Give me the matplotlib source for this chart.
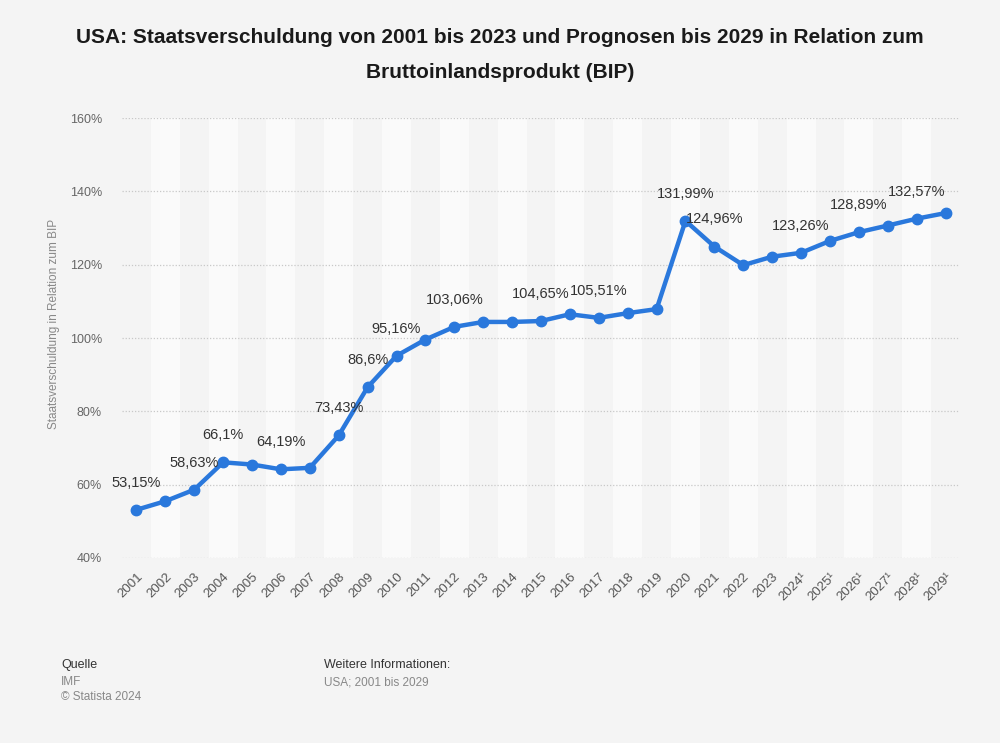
import matplotlib.pyplot as plt

# Daten (IMF, Staatsverschuldung in % des BIP)
jahre = ['2001', '2002', '2003', '2004', '2005', '2006', '2007', '2008', '2009', '2010',
         '2011', '2012', '2013', '2014', '2015', '2016', '2017', '2018', '2019', '2020',
         '2021', '2022', '2023', '2024¹', '2025¹', '2026¹', '2027¹', '2028¹', '2029¹']
werte = [53.15, 55.5, 58.63, 66.1, 65.5, 64.19, 64.6, 73.43, 86.6, 95.16,
         99.6, 103.06, 104.4, 104.4, 104.65, 106.5, 105.51, 106.8, 107.9, 131.99,
         124.96, 119.9, 122.2, 123.26, 126.5, 128.89, 130.7, 132.57, 134.1]
# nur diese Punkte bekommen eine Beschriftung
beschriftet = [0, 2, 3, 5, 7, 8, 9, 11, 14, 16, 19, 20, 23, 25, 27]
y_ticks = [40, 60, 80, 100, 120, 140, 160]

plt.rcParams['font.family'] = ['Liberation Sans', 'DejaVu Sans']

bg = '#f4f4f4'
fig = plt.figure(figsize=(10, 7.43), dpi=100, facecolor=bg)
ax = fig.add_axes([0.122, 0.249, 0.838, 0.592], facecolor=bg)

x = list(range(len(jahre)))

# helle Streifen für jede zweite Spalte
for i in x:
    if i % 2 == 1:
        ax.axvspan(i - 0.5, i + 0.5, color='#fafafa', zorder=0, lw=0)

for t in y_ticks:
    ax.axhline(t, color='#c8c8c8', lw=0.9, ls=(0, (1, 1.5)), zorder=1)

ax.plot(x, werte, color='#2a78dc', lw=3.2, marker='o', markersize=7.5,
        solid_capstyle='round', solid_joinstyle='round', zorder=3)

for i in beschriftet:
    txt = f'{werte[i]:g}'.replace('.', ',') + '%'
    ax.annotate(txt, (x[i], werte[i]), xytext=(0, 19.5), textcoords='offset points',
                ha='center', va='center', fontsize=10.5, color='#333333', zorder=4)

ax.set_xlim(-0.5, len(jahre) - 0.5)
ax.set_ylim(40, 160)
ax.set_yticks(y_ticks)
ax.set_yticklabels([f'{t}%' for t in y_ticks], fontsize=9, color='#666666')
ax.set_xticks(x)
ax.set_xticklabels(jahre, rotation=45, ha='right', rotation_mode='anchor',
                   fontsize=9.5, color='#555555')
ax.tick_params(axis='both', length=0)
ax.tick_params(axis='y', pad=14.5)
ax.tick_params(axis='x', pad=9)
for s in ax.spines.values():
    s.set_visible(False)

ax.set_ylabel('Staatsverschuldung in Relation zum BIP', fontsize=8.5, color='#888888')
ax.yaxis.set_label_coords(-0.074, 0.532)

fig.text(0.5, 0.950, 'USA: Staatsverschuldung von 2001 bis 2023 und Prognosen bis 2029 in Relation zum',
         ha='center', va='center', fontsize=15, fontweight='bold', color='#1a1a1a')
fig.text(0.5, 0.903, 'Bruttoinlandsprodukt (BIP)',
         ha='center', va='center', fontsize=15, fontweight='bold', color='#1a1a1a')

fig.text(0.061, 0.105, 'Quelle', fontsize=9, color='#333333', va='center')
fig.text(0.061, 0.082, 'IMF', fontsize=8.5, color='#888888', va='center')
fig.text(0.061, 0.062, '© Statista 2024', fontsize=8.5, color='#888888', va='center')
fig.text(0.324, 0.105, 'Weitere Informationen:', fontsize=9, color='#333333', va='center')
fig.text(0.324, 0.082, 'USA; 2001 bis 2029', fontsize=8.5, color='#888888', va='center')

fig.savefig('out.png', dpi=100, facecolor=bg)
